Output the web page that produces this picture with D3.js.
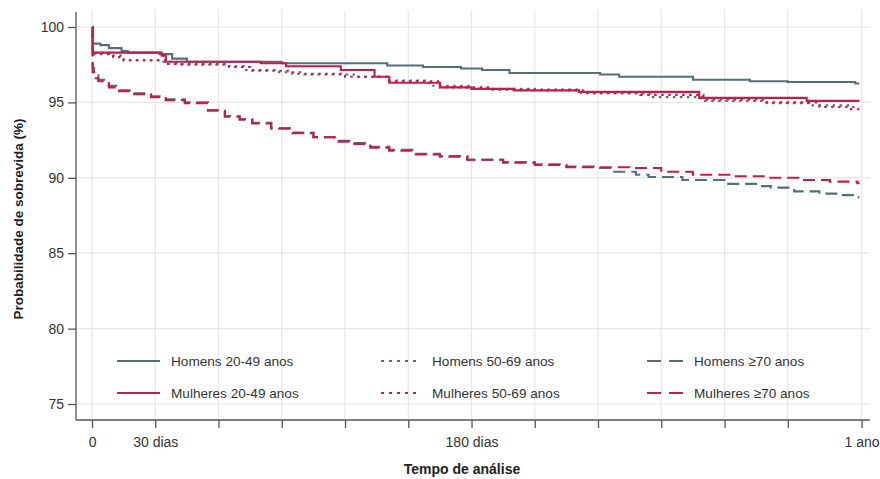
<!DOCTYPE html>
<html><head><meta charset="utf-8">
<script src="https://cdn.jsdelivr.net/npm/d3@7"></script>
<style>
body{margin:0;background:#fff;}
text{font-family:"Liberation Sans",Arial,sans-serif;}
</style></head>
<body><svg id="c" width="880" height="479"></svg>
<script>
// ---- data (day, survival %) ----
const xTickDays = [0,30,60,90,120,150,180,210,240,270,300,330,365];
const xTickLabels = {0:"0",30:"30 dias",180:"180 dias",365:"1 ano"};
const yTicks = [75,80,85,90,95,100];

const homens2049 = [[0,100],[0.3,98.9],[4,98.8],[8,98.6],[14,98.4],[17,98.3],[32,98.2],[38,97.9],[45,97.7],[90,97.6],[140,97.45],[157,97.35],[175,97.25],[185,97.15],[198,96.95],[241,96.85],[250,96.7],[285,96.5],[312,96.4],[330,96.35],[362,96.25],[364,96.25]];
const mulheres2049 = [[0,100],[0.3,98.3],[33,98.1],[35,97.7],[80,97.6],[92,97.4],[118,97.15],[134,96.7],[141,96.3],[165,96.0],[180,95.9],[200,95.8],[231,95.7],[288,95.3],[339,95.1],[364,95.1]];
const homens5069 = [[0,100],[0.3,98.3],[8,98.1],[15,97.8],[33,97.7],[40,97.5],[65,97.4],[72,97.15],[88,97.0],[100,96.85],[125,96.7],[140,96.45],[160,96.1],[180,95.9],[210,95.8],[235,95.6],[265,95.35],[290,95.1],[320,94.95],[340,94.8],[360,94.7],[364,94.7]];
const mulheres5069 = [[0,100],[0.3,98.2],[10,98.0],[15,97.8],[36,97.55],[65,97.35],[75,97.1],[95,96.9],[120,96.7],[140,96.4],[165,96.0],[190,95.85],[230,95.65],[260,95.5],[290,95.2],[320,95.0],[345,94.7],[360,94.55],[364,94.55]];
const homens70 = [[0,100],[0.3,97.3],[1,96.8],[3,96.5],[8,96.1],[12,95.8],[20,95.6],[28,95.4],[35,95.2],[44,95.0],[55,94.5],[63,94.1],[70,93.9],[76,93.65],[85,93.3],[95,93.0],[105,92.7],[115,92.45],[122,92.3],[132,92.05],[141,91.85],[152,91.6],[165,91.45],[178,91.2],[195,91.05],[210,90.9],[225,90.75],[238,90.65],[247,90.4],[258,90.2],[264,90.05],[280,89.85],[300,89.6],[315,89.45],[322,89.35],[333,89.1],[345,88.95],[355,88.85],[363,88.7],[364,88.7]];
const mulheres70 = [[0,100],[0.3,97.0],[1,96.6],[3,96.4],[8,96.0],[12,95.75],[20,95.55],[28,95.35],[35,95.15],[44,94.95],[55,94.45],[63,94.05],[70,93.85],[76,93.6],[85,93.25],[95,92.95],[105,92.7],[115,92.4],[122,92.25],[132,92.0],[141,91.8],[152,91.55],[165,91.4],[178,91.2],[195,91.0],[210,90.85],[225,90.7],[255,90.65],[270,90.4],[285,90.2],[303,90.1],[320,90.0],[335,89.85],[350,89.75],[363,89.65],[364,89.65]];

const seriesNames = ["Homens 20-49 anos","Mulheres 20-49 anos","Homens 50-69 anos","Mulheres 50-69 anos","Homens ≥70 anos","Mulheres ≥70 anos"];
const seriesData = [homens2049,mulheres2049,homens5069,mulheres5069,homens70,mulheres70];

// ---- styles ----
const GRAY="#52707b", RED="#c21d4b";
const styles = [
  {c:GRAY,d:null},{c:RED,d:null},
  {c:GRAY,d:"2.5,4.5"},{c:RED,d:"2.5,4.5"},
  {c:GRAY,d:"12,6"},{c:RED,d:"12,6"}
];

const svg = d3.select("#c");
const x = d3.scaleLinear().domain([-7.6,369]).range([76,870]);
const y = d3.scaleLinear().domain([73.94,100.995]).range([420,12]);

// grid
const g = svg.append("g");
g.selectAll(".vg").data(xTickDays).enter().append("line")
  .attr("x1",d=>x(d)).attr("x2",d=>x(d)).attr("y1",10).attr("y2",420)
  .attr("stroke","#e6e6e6").attr("stroke-width",1.2);
g.selectAll(".hg").data(yTicks).enter().append("line")
  .attr("x1",76).attr("x2",870).attr("y1",d=>y(d)).attr("y2",d=>y(d))
  .attr("stroke","#e6e6e6").attr("stroke-width",1.2);

// axes
const xAxis = d3.axisBottom(x).tickValues(xTickDays).tickSize(8).tickPadding(9)
  .tickFormat(d=>xTickLabels[d]||"");
const ax = svg.append("g").attr("transform","translate(0,420)").call(xAxis);
ax.select(".domain").attr("d","M76,0H870").attr("stroke","#555").attr("stroke-width",1.3);
ax.selectAll(".tick line").attr("stroke","#555").attr("stroke-width",1.3);
ax.selectAll(".tick text").attr("font-size","14px").attr("fill","#333").attr("font-family","Liberation Sans, Arial");

const yAxis = d3.axisLeft(y).tickValues(yTicks).tickSize(8).tickPadding(4);
const ay = svg.append("g").attr("transform","translate(76,0)").call(yAxis);
ay.select(".domain").attr("d","M0,12V420").attr("stroke","#555").attr("stroke-width",1.3);
ay.selectAll(".tick line").attr("stroke","#555").attr("stroke-width",1.3);
ay.selectAll(".tick text").attr("font-size","14px").attr("fill","#333").attr("font-family","Liberation Sans, Arial");

// titles
svg.append("text").attr("x",462).attr("y",474).attr("text-anchor","middle")
  .attr("font-size","14px").attr("font-weight","bold").attr("fill","#222").text("Tempo de análise");
svg.append("text").attr("transform","translate(23,219) rotate(-90)").attr("text-anchor","middle")
  .attr("font-size","13.5px").attr("font-weight","bold").attr("fill","#222").text("Probabilidade de sobrevida (%)");

// curves
const line = d3.line().x(d=>x(d[0])).y(d=>y(d[1])).curve(d3.curveStepAfter);
const order = [4,5,2,3,0,1];
order.forEach(i=>{
  svg.append("path").datum(seriesData[i]).attr("d",line)
    .attr("fill","none").attr("stroke",styles[i].c).attr("stroke-width",2.1)
    .attr("stroke-dasharray",styles[i].d);
});

// legend
const legX = [117,381,647], legY=[361,393];
seriesNames.forEach((n,i)=>{
  const col=Math.floor(i/2), row=i%2;
  const lg = svg.append("g");
  const len = col===2?36:(col===1?40:43);
  lg.append("line").attr("x1",legX[col]).attr("x2",legX[col]+len)
    .attr("y1",legY[row]).attr("y2",legY[row])
    .attr("stroke",styles[i].c).attr("stroke-width",2)
    .attr("stroke-dasharray", col===1?"3,5":(col===2?"14,8":null));
  lg.append("text").attr("x",legX[col]+len+11).attr("y",legY[row]+5)
    .attr("font-size","13.6px").attr("fill","#333").text(n);
});
</script></body></html>
